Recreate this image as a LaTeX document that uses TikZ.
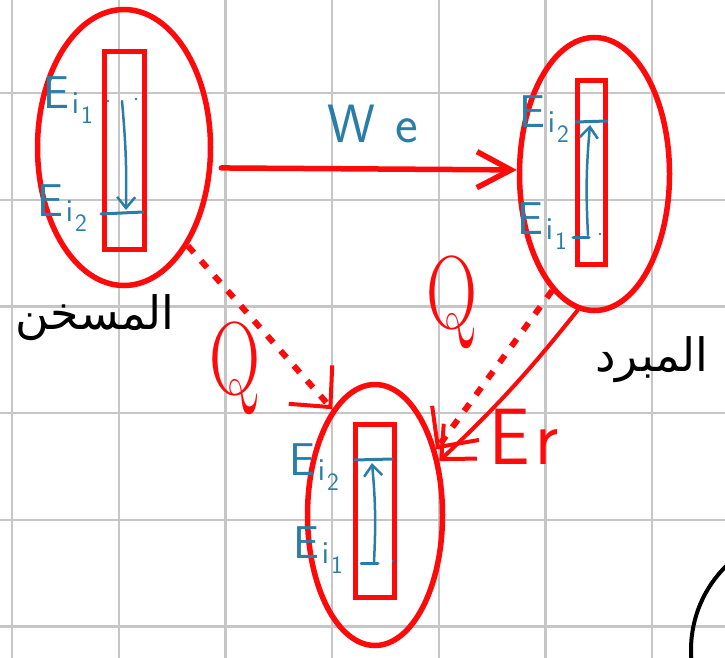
\documentclass[tikz,border=0pt]{standalone}
\usepackage{fontspec}
\newfontfamily\arabicfont[Script=Arabic]{DejaVu Sans}
\TeXXeTstate=1
\usetikzlibrary{arrows.meta,shapes.geometric}

\definecolor{pen}{HTML}{FF0A0A}
\definecolor{ink}{HTML}{2A7DA8}
\definecolor{gridc}{HTML}{C6C6C6}

% energy level label: E with subscript i and index
\newcommand{\levelname}[1]{{\sffamily\fontsize{46}{46}\selectfont E\kern3pt\raisebox{-5pt}{\fontsize{32}{32}\selectfont i\kern2pt\raisebox{-10pt}{\fontsize{25}{25}\selectfont #1}}}}

\tikzset{
  gridline/.style={draw=gridc, line width=2.2pt},
  ring/.style={ellipse, draw=pen, line width=5.5pt, inner sep=0pt},
  slot/.style={rectangle, draw=pen, line width=5.5pt, inner sep=0pt},
  tie/.style={draw=pen, line width=5.5pt, line cap=round,
    -{Straight Barb[length=34pt, width=36pt, line width=5.5pt]}},
  heat/.style={draw=pen, line width=6pt, dash pattern=on 9pt off 11pt,
    -{Straight Barb[length=30pt, width=58pt, line width=4pt]}},
  rays/.style={draw=pen, line width=4pt, line cap=round,
    -{Straight Barb[length=26pt, width=48pt, line width=4pt]}},
  bar/.style={draw=ink, line width=3pt, line cap=round},
  jump/.style={draw=ink, line width=2.5pt, line cap=round,
    -{Straight Barb[length=11pt, width=18pt, line width=2.5pt]}},
  tag/.style={text=ink, inner sep=0pt},
  redtag/.style={text=pen, inner sep=0pt},
  note/.style={text=black, inner sep=0pt},
}

\begin{document}
\begin{tikzpicture}[x=1pt, y=-1pt]
\useasboundingbox (0,0) rectangle (725,658);
\clip (0,0) rectangle (725,658);
\fill[white] (0,0) rectangle (725,658);

% squared paper
\foreach \i in {0,...,6} \draw[gridline] ({12+106.7*\i},0) -- ({12+106.7*\i},658);
\foreach \j in {0,...,5} \draw[gridline] (0,{93+106.7*\j}) -- (725,{93+106.7*\j});

% the three systems
\node[ring, minimum width=173pt, minimum height=276pt] (hot) at (124,147.5) {};
\node[ring, minimum width=150pt, minimum height=273pt] (cold) at (594.5,174) {};
\node[ring, minimum width=135pt, minimum height=261pt] (sink) at (375,515) {};

\node[slot, minimum width=40pt, minimum height=198pt] (hotbox) at (124.5,150.5) {};
\node[slot, minimum width=28pt, minimum height=184pt] (coldbox) at (591.5,172.5) {};
\node[slot, minimum width=39pt, minimum height=173pt] (sinkbox) at (375,511) {};

% energy levels inside the left system
\coordinate (hA) at (122,101);
\coordinate (hB) at (126,210);
\draw[bar] (101,214) -- (143,212);
\draw[jump] (hA) to[bend left=3] (hB);
\fill[ink] (108,101) circle (1.3pt) (136,99) circle (1.3pt);
\node[tag] (hE1) at (68,100) {\levelname{1}};
\node[tag] (hE2) at (62,208) {\levelname{2}};

% energy levels inside the right system
\coordinate (cA) at (588,235);
\coordinate (cB) at (590,125);
\draw[bar] (576,122) -- (607,121);
\draw[bar] (573,237) -- (589,237);
\draw[jump] (cA) to[bend left=4] (cB);
\fill[ink] (600,234) circle (1.3pt);
\node[tag] (cE2) at (544,119) {\levelname{2}};
\node[tag] (cE1) at (542,226) {\levelname{1}};

% energy levels inside the bottom system
\coordinate (sA) at (374,562);
\coordinate (sB) at (372,463);
\draw[bar] (355,460) -- (392,459);
\draw[bar] (361,563) -- (378,563);
\draw[jump] (sA) to[bend right=4] (sB);
\fill[ink] (393,561) circle (1.3pt);
\node[tag] (sE2) at (314,467) {\levelname{2}};
\node[tag] (sE1) at (318,550) {\levelname{1}};

% work from the left system to the right one
\draw[tie, shorten <=9pt] (hot.-13) -- (cold.177);
\node[tag] (we) at (373,124) {\sffamily\fontsize{54}{54}\selectfont W\kern20pt e};

% heat flows into the bottom system
\draw[heat] (hot.-57) -- (sink.112);
\draw[heat] (cold.250) -- (sink.47);
\node[redtag, xscale=0.68] (q1) at (235,368) {\fontsize{104}{104}\selectfont Q};
\node[redtag, xscale=0.68] (q2) at (452,302) {\fontsize{104}{104}\selectfont Q};

% energy released by the right system
\draw[rays] (cold.263) to[bend left=4] (sink.40);
\node[redtag, xscale=0.9] (er) at (524,437) {\sffamily\fontsize{80}{80}\selectfont E\kern6pt r};

% names of the systems
\node[note] (hotname) at (95,318) {\arabicfont\fontsize{46}{46}\selectfont\beginR المسخن\endR};
\node[note] (coldname) at (652,360) {\arabicfont\fontsize{46}{46}\selectfont\beginR المبرد\endR};

% a circle cut by the page edge
\draw[black, line width=4pt] (809,650) circle[radius=118pt];
\end{tikzpicture}
\end{document}
